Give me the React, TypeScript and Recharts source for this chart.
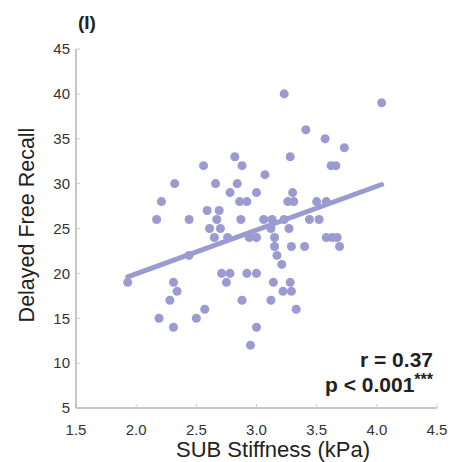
import { ReferenceLine, Scatter, ScatterChart, XAxis, YAxis } from "recharts";

const stiffness = [
  1.93, 2.17, 2.19, 2.21, 2.28, 2.31, 2.31, 2.32, 2.34, 2.44, 2.44, 2.5, 2.56,
  2.57, 2.59, 2.61, 2.65, 2.66, 2.67, 2.69, 2.7, 2.71, 2.75, 2.76, 2.78, 2.78,
  2.82, 2.84, 2.86, 2.87, 2.88, 2.88, 2.92, 2.92, 2.94, 2.95, 3.0, 3.0, 3.0,
  3.0, 3.06, 3.07, 3.12, 3.12, 3.13, 3.14, 3.15, 3.15, 3.17, 3.21, 3.22, 3.23,
  3.23, 3.26, 3.27, 3.28, 3.28, 3.29, 3.29, 3.3, 3.31, 3.33, 3.4, 3.41, 3.44,
  3.5, 3.52, 3.57, 3.58, 3.58, 3.62, 3.63, 3.66, 3.67, 3.69, 3.73, 4.04,
];
const recall = [
  19, 26, 15, 28, 17, 19, 14, 30, 18, 26, 22, 15, 32, 16, 27, 25, 24, 30, 26,
  27, 25, 20, 19, 24, 20, 29, 33, 30, 28, 26, 32, 17, 28, 20, 24, 12, 29, 24,
  20, 14, 26, 31, 25, 17, 26, 19, 24, 23, 22, 21, 18, 40, 26, 28, 25, 33, 19,
  23, 18, 29, 28, 16, 23, 36, 26, 28, 26, 35, 28, 24, 32, 24, 32, 24, 23, 34,
  39,
];
// fitted line ends
const fitX = [1.93, 4.04];
const fitY = [19.6, 29.9];
const xTicks = [1.5, 2.0, 2.5, 3.0, 3.5, 4.0, 4.5];
const yTicks = [5, 10, 15, 20, 25, 30, 35, 40, 45];

const points = stiffness.map((x, i) => ({ x, y: recall[i] }));
const fitSegment = fitX.map((x, i) => ({ x, y: fitY[i] }));

const purple = "#9b9bd1";
const frame = "#b3b3b3";
const font = "'Liberation Sans', Arial, sans-serif";
const tickStyle = { fill: "#333", fontSize: 15, fontFamily: font };

export default function App() {
  return (
    <div style={{ position: "absolute", left: 0, top: 0, background: "#fff" }}>
      <ScatterChart
        width={456}
        height={462}
        margin={{ top: 49, right: 19, bottom: 24, left: 16 }}
      >
        <XAxis
          type="number"
          dataKey="x"
          domain={[1.5, 4.5]}
          ticks={xTicks}
          interval={0}
          allowDataOverflow
          tickFormatter={(v) => v.toFixed(1)}
          tick={tickStyle}
          tickSize={-4}
          tickMargin={20}
          height={30}
          axisLine={{ stroke: frame, strokeWidth: 1.5 }}
          tickLine={{ stroke: "#ccc" }}
        />
        <XAxis
          xAxisId="top"
          orientation="top"
          type="number"
          domain={[1.5, 4.5]}
          ticks={xTicks}
          interval={0}
          height={0}
          tickFormatter={() => ""}
          tickSize={-4}
          axisLine={{ stroke: frame, strokeWidth: 1.5 }}
          tickLine={{ stroke: "#ccc" }}
        />
        <YAxis
          type="number"
          dataKey="y"
          domain={[5, 45]}
          ticks={yTicks}
          interval={0}
          allowDataOverflow
          tick={tickStyle}
          tickSize={-4}
          tickMargin={10}
          width={60}
          axisLine={{ stroke: frame, strokeWidth: 1.5 }}
          tickLine={{ stroke: "#ccc" }}
        />
        <YAxis
          yAxisId="right"
          orientation="right"
          type="number"
          domain={[5, 45]}
          ticks={yTicks}
          interval={0}
          width={0}
          tickFormatter={() => ""}
          tickSize={-4}
          axisLine={{ stroke: frame, strokeWidth: 1.5 }}
          tickLine={{ stroke: "#ccc" }}
        />
        <ReferenceLine
          segment={fitSegment}
          stroke={purple}
          strokeWidth={5}
          strokeLinecap="round"
        />
        <Scatter data={points} fill={purple} isAnimationActive={false} />
        <text x={78} y={29} fontFamily={font} fontWeight="bold" fontSize={19} fill="#222">
          (I)
        </text>
        <text
          x={27}
          y={225}
          transform="rotate(-90 27 225)"
          textAnchor="middle"
          dominantBaseline="central"
          fontFamily={font}
          fontSize={21.5}
          fill="#222"
        >
          Delayed Free Recall
        </text>
        <text x={273} y={457} textAnchor="middle" fontFamily={font} fontSize={22} fill="#222">
          SUB Stiffness (kPa)
        </text>
        <text x={433} y={367} textAnchor="end" fontFamily={font} fontWeight="bold" fontSize={21} fill="#222">
          r = 0.37
        </text>
        <text x={433} y={392} textAnchor="end" fontFamily={font} fontWeight="bold" fontSize={21} fill="#222">
          p &lt; 0.001
          <tspan fontSize={16} dy={-7}>***</tspan>
        </text>
      </ScatterChart>
    </div>
  );
}
